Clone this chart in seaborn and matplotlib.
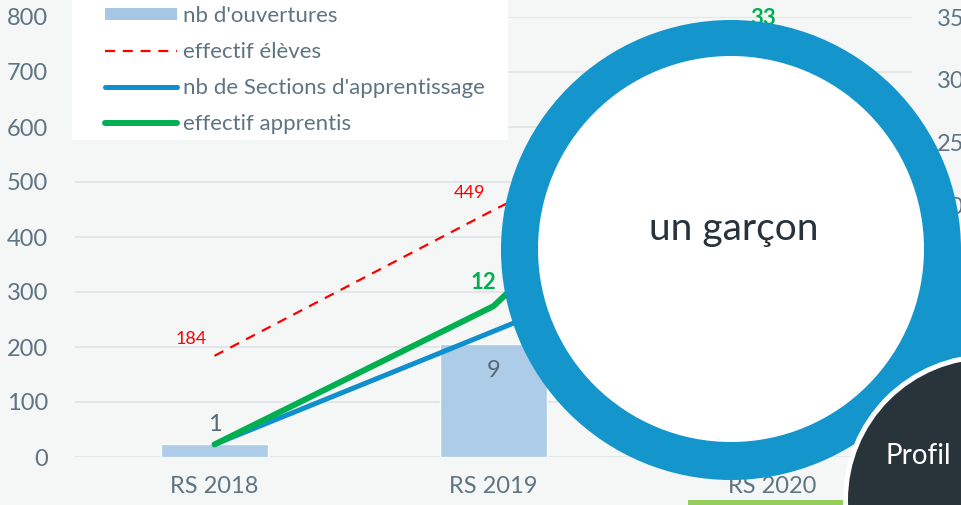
import numpy as np
import matplotlib
matplotlib.use("Agg")
import matplotlib.pyplot as plt
import seaborn as sns
from matplotlib.patches import Circle, Rectangle, Patch
from matplotlib.lines import Line2D

# ---------------------------------------------------------------------------
# data (RS 2020 values for bars / élèves / sections are hidden by the circle: estimates)
# ---------------------------------------------------------------------------
rentrees = ["RS 2018", "RS 2019", "RS 2020"]
nb_ouvertures = [1, 9, 20]
effectif_eleves = [184, 449, 700]
nb_sections = [1, 10, 19]
effectif_apprentis = [1, 12, 33]

left_ticks = [0, 100, 200, 300, 400, 500, 600, 700, 800]
right_ticks = [0, 5, 10, 15, 20, 25, 30, 35]

legend_labels = ["nb d'ouvertures", "effectif élèves",
                 "nb de Sections d'apprentissage", "effectif apprentis"]

# colours
BG = "#f5f7f7"
GRID = "#dce2e5"
TXT = "#5e7482"
BAR = "#a6c8e7"
RED = "#ff0000"
BLUE = "#0f8fcd"
GREEN = "#00b050"
RING = "#1496cc"
DARK = "#29333a"

sns.set_theme(style="white")
plt.rcParams["font.family"] = ["Lato", "DejaVu Sans"]

W, H = 961, 505
fig = plt.figure(figsize=(W / 100, H / 100), dpi=100, facecolor=BG)
ax = fig.add_axes([75 / W, 48 / H, 837 / W, 440 / H])
ax.set_facecolor(BG)
ax2 = ax.twinx()

x = np.arange(len(rentrees))

# bars on the secondary axis
sns.barplot(x=rentrees, y=nb_ouvertures, ax=ax2, color=BAR, saturation=1,
            width=0.386, errorbar=None, alpha=0.9, zorder=1)

# élèves on the primary axis
sns.lineplot(x=x, y=effectif_eleves, ax=ax, color=RED, linewidth=1.6,
             linestyle=(0, (4.5, 3.5)), legend=False, zorder=3)

# sections and apprentis on the secondary axis
sns.lineplot(x=x, y=nb_sections, ax=ax2, color=BLUE, linewidth=3.6,
             legend=False, zorder=3)
sns.lineplot(x=x, y=effectif_apprentis, ax=ax2, color=GREEN, linewidth=4.3,
             legend=False, zorder=4)
for ln in ax2.lines + ax.lines:
    ln.set_solid_capstyle("round")

# data labels
for i, v in enumerate(nb_ouvertures):
    dy = 14 if v < 3 else -19
    ax2.annotate(str(v), (x[i], v), xytext=(0, dy), textcoords="offset points",
                 ha="center", va="center", fontsize=17, color="#596873", zorder=5)
for i, v in enumerate(effectif_eleves):
    ax.annotate(str(v), (x[i], v), xytext=(-17, 12), textcoords="offset points",
                ha="center", va="center", fontsize=13, color=RED)
for i, v in enumerate(effectif_apprentis):
    if i == 0:
        continue
    ax2.annotate(str(v), (x[i], v), xytext=(-7, 17), textcoords="offset points",
                 ha="center", va="center", fontsize=16, fontweight="bold",
                 color=GREEN, zorder=6)

# axes styling
ax.set_xlim(-0.5, 2.5)
ax.set_ylim(0, 800)
ax2.set_ylim(0, 35)
ax.set_yticks(left_ticks)
ax2.set_yticks(right_ticks)
ax.set_xticks(x)
ax.set_xticklabels(rentrees)
ax.set_xlabel("")
ax.set_ylabel("")
ax2.set_ylabel("")
ax.grid(axis="y", color=GRID, linewidth=1.1)
ax.grid(axis="x", visible=False)
ax2.grid(False)
for a in (ax, ax2):
    for s in a.spines.values():
        s.set_visible(False)
ax.tick_params(axis="y", length=0, pad=19.5, labelsize=17, labelcolor=TXT)
ax.tick_params(axis="x", length=0, pad=14, labelsize=17, labelcolor=TXT)
ax2.tick_params(axis="y", length=0, pad=18, labelsize=17, labelcolor=TXT)

# legend with its white box
ax2.add_patch(Rectangle((72 / W, 1 - 140 / H), 436 / W, 140 / H, transform=fig.transFigure,
                        facecolor="white", edgecolor="none", clip_on=False, zorder=7))
handles = [
    Patch(facecolor=BAR, edgecolor="none"),
    Line2D([], [], color=RED, linewidth=1.6, linestyle=(0, (4.5, 3.5))),
    Line2D([], [], color=BLUE, linewidth=3.6, solid_capstyle="round"),
    Line2D([], [], color=GREEN, linewidth=4.3, solid_capstyle="round"),
]
leg = ax2.legend(handles, legend_labels, loc="upper left",
                 bbox_to_anchor=(105 / W, 1 - 6 / H), bbox_transform=fig.transFigure,
                 frameon=False, borderpad=0, borderaxespad=0, fontsize=16,
                 handlelength=3.25, handleheight=0.5, handletextpad=0.27,
                 labelspacing=0.72)
for t in leg.get_texts():
    t.set_color(TXT)
leg.set_zorder(8)

# overlay shapes from the page on top of the chart
ov = fig.add_axes([0, 0, 1, 1], zorder=10)
ov.set_xlim(0, W)
ov.set_ylim(H, 0)
ov.axis("off")
ov.patch.set_visible(False)
ov.add_patch(Circle((731, 250), 230, facecolor=RING, edgecolor="none"))
ov.add_patch(Rectangle((880, 250), 85, 170, facecolor=RING, edgecolor="none"))
ov.add_patch(Circle((731, 249), 193, facecolor="white", edgecolor="none"))
ov.text(734, 229, "un garçon", ha="center", va="center", fontsize=28, color="#27323b")
ov.add_patch(Rectangle((688, 500), 160, 6, facecolor="#96cc5c", edgecolor="none"))
ov.add_patch(Circle((989, 500), 146, facecolor="white", edgecolor="none"))
ov.add_patch(Circle((989, 500), 141, facecolor=DARK, edgecolor="none"))
ov.text(918, 456, "Profil", ha="center", va="center", fontsize=20, color="white")

fig.savefig("out.png", dpi=100, facecolor=BG)
